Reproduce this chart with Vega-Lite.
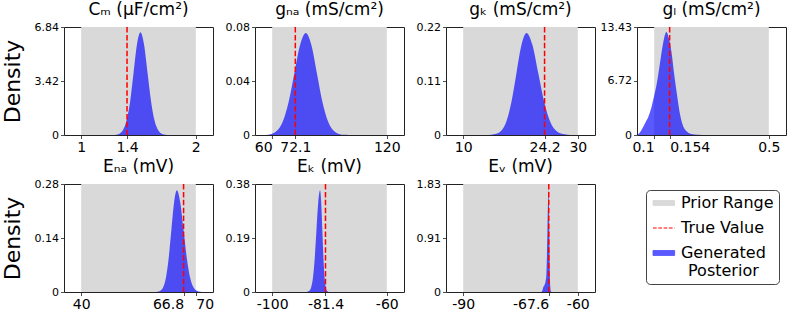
{
  "$schema": "https://vega.github.io/schema/vega-lite/v6.json",
  "padding": {"left": 0, "top": 0, "right": 5, "bottom": 5},
  "background": "white",
  "datasets": {
    "params": [
      {"p": "Cm", "lo": 1, "hi": 2, "t": 1.4},
      {"p": "gNa", "lo": 60, "hi": 120, "t": 72.1},
      {"p": "gK", "lo": 10, "hi": 30, "t": 24.2},
      {"p": "gL", "lo": 0.1, "hi": 0.5, "t": 0.154},
      {"p": "ENa", "lo": 40, "hi": 70, "t": 66.8},
      {"p": "EK", "lo": -100, "hi": -60, "t": -81.4},
      {"p": "EV", "lo": -90, "hi": -60, "t": -67.6}
    ],
    "curves": [
      {"p": "Cm", "x": 1.28, "d": 0}, {"p": "Cm", "x": 1.307, "d": 0.02}, {"p": "Cm", "x": 1.337, "d": 0.10},
      {"p": "Cm", "x": 1.367, "d": 0.35}, {"p": "Cm", "x": 1.397, "d": 0.95}, {"p": "Cm", "x": 1.427, "d": 2.11},
      {"p": "Cm", "x": 1.457, "d": 3.94}, {"p": "Cm", "x": 1.487, "d": 5.74}, {"p": "Cm", "x": 1.517, "d": 6.50},
      {"p": "Cm", "x": 1.548, "d": 5.74}, {"p": "Cm", "x": 1.579, "d": 3.94}, {"p": "Cm", "x": 1.61, "d": 2.11},
      {"p": "Cm", "x": 1.641, "d": 0.88}, {"p": "Cm", "x": 1.672, "d": 0.30}, {"p": "Cm", "x": 1.703, "d": 0.08},
      {"p": "Cm", "x": 1.734, "d": 0.015}, {"p": "Cm", "x": 1.76, "d": 0},

      {"p": "gNa", "x": 56.6, "d": 0}, {"p": "gNa", "x": 59.6, "d": 0.0008}, {"p": "gNa", "x": 62.6, "d": 0.0033},
      {"p": "gNa", "x": 65.6, "d": 0.0102}, {"p": "gNa", "x": 68.6, "d": 0.0245}, {"p": "gNa", "x": 71.6, "d": 0.0458},
      {"p": "gNa", "x": 74.6, "d": 0.0666}, {"p": "gNa", "x": 77.6, "d": 0.0755}, {"p": "gNa", "x": 80.5, "d": 0.0666},
      {"p": "gNa", "x": 83.4, "d": 0.0458}, {"p": "gNa", "x": 86.3, "d": 0.0245}, {"p": "gNa", "x": 89.2, "d": 0.0102},
      {"p": "gNa", "x": 92.1, "d": 0.0033}, {"p": "gNa", "x": 95.0, "d": 0.0008}, {"p": "gNa", "x": 97.9, "d": 0.0001},
      {"p": "gNa", "x": 100, "d": 0},

      {"p": "gK", "x": 13.5, "d": 0}, {"p": "gK", "x": 14.05, "d": 0.0001}, {"p": "gK", "x": 14.925, "d": 0.0005},
      {"p": "gK", "x": 15.8, "d": 0.0023}, {"p": "gK", "x": 16.675, "d": 0.0091}, {"p": "gK", "x": 17.55, "d": 0.0281},
      {"p": "gK", "x": 18.425, "d": 0.0675}, {"p": "gK", "x": 19.3, "d": 0.1262}, {"p": "gK", "x": 20.175, "d": 0.1836},
      {"p": "gK", "x": 21.05, "d": 0.208}, {"p": "gK", "x": 22.075, "d": 0.1836}, {"p": "gK", "x": 23.1, "d": 0.1262},
      {"p": "gK", "x": 24.125, "d": 0.0675}, {"p": "gK", "x": 25.15, "d": 0.0281}, {"p": "gK", "x": 26.175, "d": 0.0091},
      {"p": "gK", "x": 27.2, "d": 0.0023}, {"p": "gK", "x": 28.225, "d": 0.0005}, {"p": "gK", "x": 29.25, "d": 0.0001},
      {"p": "gK", "x": 30, "d": 0},

      {"p": "gL", "x": 0.04, "d": 0}, {"p": "gL", "x": 0.05, "d": 0.3}, {"p": "gL", "x": 0.06, "d": 0.9},
      {"p": "gL", "x": 0.07, "d": 1.6}, {"p": "gL", "x": 0.08, "d": 2.3}, {"p": "gL", "x": 0.09, "d": 3.4},
      {"p": "gL", "x": 0.10, "d": 4.9}, {"p": "gL", "x": 0.11, "d": 6.6}, {"p": "gL", "x": 0.12, "d": 8.9},
      {"p": "gL", "x": 0.13, "d": 11.2}, {"p": "gL", "x": 0.1426, "d": 12.8}, {"p": "gL", "x": 0.15, "d": 12.2},
      {"p": "gL", "x": 0.16, "d": 10.4}, {"p": "gL", "x": 0.17, "d": 7.5}, {"p": "gL", "x": 0.18, "d": 4.9},
      {"p": "gL", "x": 0.19, "d": 2.6}, {"p": "gL", "x": 0.20, "d": 1.2}, {"p": "gL", "x": 0.215, "d": 0.4},
      {"p": "gL", "x": 0.23, "d": 0.12}, {"p": "gL", "x": 0.25, "d": 0.02}, {"p": "gL", "x": 0.265, "d": 0},

      {"p": "ENa", "x": 59.25, "d": 0}, {"p": "ENa", "x": 59.975, "d": 0.0006}, {"p": "ENa", "x": 60.7, "d": 0.003},
      {"p": "ENa", "x": 61.425, "d": 0.0116}, {"p": "ENa", "x": 62.15, "d": 0.0357}, {"p": "ENa", "x": 62.875, "d": 0.0857},
      {"p": "ENa", "x": 63.6, "d": 0.160}, {"p": "ENa", "x": 64.325, "d": 0.233}, {"p": "ENa", "x": 65.05, "d": 0.264},
      {"p": "ENa", "x": 65.925, "d": 0.233}, {"p": "ENa", "x": 66.8, "d": 0.160}, {"p": "ENa", "x": 67.675, "d": 0.0857},
      {"p": "ENa", "x": 68.55, "d": 0.0357}, {"p": "ENa", "x": 69.425, "d": 0.0116}, {"p": "ENa", "x": 70.3, "d": 0.003},
      {"p": "ENa", "x": 71.175, "d": 0.0006}, {"p": "ENa", "x": 72.05, "d": 0},

      {"p": "EK", "x": -88.5, "d": 0}, {"p": "EK", "x": -87.675, "d": 0.001}, {"p": "EK", "x": -87.05, "d": 0.004},
      {"p": "EK", "x": -86.425, "d": 0.016}, {"p": "EK", "x": -85.8, "d": 0.048}, {"p": "EK", "x": -85.175, "d": 0.116},
      {"p": "EK", "x": -84.55, "d": 0.217}, {"p": "EK", "x": -83.925, "d": 0.316}, {"p": "EK", "x": -83.3, "d": 0.358},
      {"p": "EK", "x": -82.9, "d": 0.316}, {"p": "EK", "x": -82.5, "d": 0.217}, {"p": "EK", "x": -82.1, "d": 0.116},
      {"p": "EK", "x": -81.7, "d": 0.048}, {"p": "EK", "x": -81.3, "d": 0.016}, {"p": "EK", "x": -80.9, "d": 0.004},
      {"p": "EK", "x": -80.5, "d": 0.001}, {"p": "EK", "x": -80.0, "d": 0},

      {"p": "EV", "x": -69.5, "d": 0}, {"p": "EV", "x": -69.3, "d": 0.02}, {"p": "EV", "x": -69.0, "d": 0.09},
      {"p": "EV", "x": -68.7, "d": 0.12}, {"p": "EV", "x": -68.45, "d": 0.18}, {"p": "EV", "x": -68.25, "d": 0.27},
      {"p": "EV", "x": -68.1, "d": 0.56}, {"p": "EV", "x": -67.95, "d": 1.05}, {"p": "EV", "x": -67.8, "d": 1.53},
      {"p": "EV", "x": -67.65, "d": 1.73}, {"p": "EV", "x": -67.56, "d": 1.53}, {"p": "EV", "x": -67.47, "d": 1.05},
      {"p": "EV", "x": -67.38, "d": 0.56}, {"p": "EV", "x": -67.29, "d": 0.23}, {"p": "EV", "x": -67.2, "d": 0.08},
      {"p": "EV", "x": -67.1, "d": 0.02}, {"p": "EV", "x": -66.9, "d": 0}
    ]
  },
  "columns": 4,
  "spacing": {"row": 49, "column": 42},
  "bounds": "flush",
  "concat": [
    {
      "width": 149, "height": 108, "title": "Cₘ (μF/cm²)",
      "layer": [
        {"data": {"name": "params"}, "transform": [{"filter": "datum.p == 'Cm'"}],
         "mark": {"type": "rect", "color": "#d9d9d9"},
         "encoding": {"x": {"field": "lo", "type": "quantitative", "scale": {"domain": [0.85, 2.15], "nice": false, "zero": false},
           "axis": {"values": [1, 1.4, 2], "title": null, "labelExpr": "'' + datum.value"}}, "x2": {"field": "hi"}}},
        {"data": {"name": "curves"}, "transform": [{"filter": "datum.p == 'Cm'"}],
         "mark": {"type": "area", "color": "blue", "opacity": 0.65, "interpolate": "monotone", "clip": true},
         "encoding": {"x": {"field": "x", "type": "quantitative"},
           "y": {"field": "d", "type": "quantitative", "scale": {"domain": [0, 6.84], "nice": false},
             "axis": {"values": [0, 3.42, 6.84], "title": "Density", "labelExpr": "'' + datum.value"}}}},
        {"data": {"name": "params"}, "transform": [{"filter": "datum.p == 'Cm'"}],
         "mark": {"type": "rule", "color": "red", "strokeDash": [5.5, 2.4], "strokeWidth": 1.5},
         "encoding": {"x": {"field": "t", "type": "quantitative"}}}
      ]
    },
    {
      "width": 149, "height": 108, "title": "gₙₐ (mS/cm²)",
      "layer": [
        {"data": {"name": "params"}, "transform": [{"filter": "datum.p == 'gNa'"}],
         "mark": {"type": "rect", "color": "#d9d9d9"},
         "encoding": {"x": {"field": "lo", "type": "quantitative", "scale": {"domain": [51, 129], "nice": false, "zero": false},
           "axis": {"values": [60, 72.1, 120], "title": null, "labelExpr": "'' + datum.value",
             "labelAlign": {"condition": {"test": "datum.value == 60", "value": "right"}, "value": "center"}}}, "x2": {"field": "hi"}}},
        {"data": {"name": "curves"}, "transform": [{"filter": "datum.p == 'gNa'"}],
         "mark": {"type": "area", "color": "blue", "opacity": 0.65, "interpolate": "monotone", "clip": true},
         "encoding": {"x": {"field": "x", "type": "quantitative"},
           "y": {"field": "d", "type": "quantitative", "scale": {"domain": [0, 0.08], "nice": false},
             "axis": {"values": [0, 0.04, 0.08], "title": null, "labelExpr": "'' + datum.value"}}}},
        {"data": {"name": "params"}, "transform": [{"filter": "datum.p == 'gNa'"}],
         "mark": {"type": "rule", "color": "red", "strokeDash": [5.5, 2.4], "strokeWidth": 1.5},
         "encoding": {"x": {"field": "t", "type": "quantitative"}}}
      ]
    },
    {
      "width": 149, "height": 108, "title": "gₖ (mS/cm²)",
      "layer": [
        {"data": {"name": "params"}, "transform": [{"filter": "datum.p == 'gK'"}],
         "mark": {"type": "rect", "color": "#d9d9d9"},
         "encoding": {"x": {"field": "lo", "type": "quantitative", "scale": {"domain": [7, 33], "nice": false, "zero": false},
           "axis": {"values": [10, 24.2, 30], "title": null, "labelExpr": "'' + datum.value"}}, "x2": {"field": "hi"}}},
        {"data": {"name": "curves"}, "transform": [{"filter": "datum.p == 'gK'"}],
         "mark": {"type": "area", "color": "blue", "opacity": 0.65, "interpolate": "monotone", "clip": true},
         "encoding": {"x": {"field": "x", "type": "quantitative"},
           "y": {"field": "d", "type": "quantitative", "scale": {"domain": [0, 0.22], "nice": false},
             "axis": {"values": [0, 0.11, 0.22], "title": null, "labelExpr": "'' + datum.value"}}}},
        {"data": {"name": "params"}, "transform": [{"filter": "datum.p == 'gK'"}],
         "mark": {"type": "rule", "color": "red", "strokeDash": [5.5, 2.4], "strokeWidth": 1.5},
         "encoding": {"x": {"field": "t", "type": "quantitative"}}}
      ]
    },
    {
      "width": 149, "height": 108, "title": "gₗ (mS/cm²)",
      "layer": [
        {"data": {"name": "params"}, "transform": [{"filter": "datum.p == 'gL'"}],
         "mark": {"type": "rect", "color": "#d9d9d9"},
         "encoding": {"x": {"field": "lo", "type": "quantitative", "scale": {"domain": [0.04, 0.56], "nice": false, "zero": false},
           "axis": {"values": [0.1, 0.154, 0.5], "title": null, "labelExpr": "'' + datum.value",
             "labelAlign": {"condition": [{"test": "datum.value == 0.1", "value": "right"}, {"test": "datum.value == 0.154", "value": "left"}], "value": "center"}}}, "x2": {"field": "hi"}}},
        {"data": {"name": "curves"}, "transform": [{"filter": "datum.p == 'gL'"}],
         "mark": {"type": "area", "color": "blue", "opacity": 0.65, "interpolate": "monotone", "clip": true},
         "encoding": {"x": {"field": "x", "type": "quantitative"},
           "y": {"field": "d", "type": "quantitative", "scale": {"domain": [0, 13.43], "nice": false},
             "axis": {"values": [0, 6.72, 13.43], "title": null, "labelExpr": "'' + datum.value"}}}},
        {"data": {"name": "params"}, "transform": [{"filter": "datum.p == 'gL'"}],
         "mark": {"type": "rule", "color": "red", "strokeDash": [5.5, 2.4], "strokeWidth": 1.5},
         "encoding": {"x": {"field": "t", "type": "quantitative"}}}
      ]
    },
    {
      "width": 149, "height": 108, "title": "Eₙₐ (mV)",
      "layer": [
        {"data": {"name": "params"}, "transform": [{"filter": "datum.p == 'ENa'"}],
         "mark": {"type": "rect", "color": "#d9d9d9"},
         "encoding": {"x": {"field": "lo", "type": "quantitative", "scale": {"domain": [35.5, 74.5], "nice": false, "zero": false},
           "axis": {"values": [40, 66.8, 70], "title": null, "labelExpr": "'' + datum.value",
             "labelAlign": {"condition": [{"test": "datum.value == 66.8", "value": "right"}, {"test": "datum.value == 70", "value": "left"}], "value": "center"}}}, "x2": {"field": "hi"}}},
        {"data": {"name": "curves"}, "transform": [{"filter": "datum.p == 'ENa'"}],
         "mark": {"type": "area", "color": "blue", "opacity": 0.65, "interpolate": "monotone", "clip": true},
         "encoding": {"x": {"field": "x", "type": "quantitative"},
           "y": {"field": "d", "type": "quantitative", "scale": {"domain": [0, 0.28], "nice": false},
             "axis": {"values": [0, 0.14, 0.28], "title": "Density", "labelExpr": "'' + datum.value"}}}},
        {"data": {"name": "params"}, "transform": [{"filter": "datum.p == 'ENa'"}],
         "mark": {"type": "rule", "color": "red", "strokeDash": [5.5, 2.4], "strokeWidth": 1.5},
         "encoding": {"x": {"field": "t", "type": "quantitative"}}}
      ]
    },
    {
      "width": 149, "height": 108, "title": "Eₖ (mV)",
      "layer": [
        {"data": {"name": "params"}, "transform": [{"filter": "datum.p == 'EK'"}],
         "mark": {"type": "rect", "color": "#d9d9d9"},
         "encoding": {"x": {"field": "lo", "type": "quantitative", "scale": {"domain": [-106, -54], "nice": false, "zero": false},
           "axis": {"values": [-100, -81.4, -60], "title": null, "labelExpr": "'' + datum.value"}}, "x2": {"field": "hi"}}},
        {"data": {"name": "curves"}, "transform": [{"filter": "datum.p == 'EK'"}],
         "mark": {"type": "area", "color": "blue", "opacity": 0.65, "interpolate": "monotone", "clip": true},
         "encoding": {"x": {"field": "x", "type": "quantitative"},
           "y": {"field": "d", "type": "quantitative", "scale": {"domain": [0, 0.38], "nice": false},
             "axis": {"values": [0, 0.19, 0.38], "title": null, "labelExpr": "'' + datum.value"}}}},
        {"data": {"name": "params"}, "transform": [{"filter": "datum.p == 'EK'"}],
         "mark": {"type": "rule", "color": "red", "strokeDash": [5.5, 2.4], "strokeWidth": 1.5},
         "encoding": {"x": {"field": "t", "type": "quantitative"}}}
      ]
    },
    {
      "width": 149, "height": 108, "title": "Eᵥ (mV)",
      "layer": [
        {"data": {"name": "params"}, "transform": [{"filter": "datum.p == 'EV'"}],
         "mark": {"type": "rect", "color": "#d9d9d9"},
         "encoding": {"x": {"field": "lo", "type": "quantitative", "scale": {"domain": [-94.5, -55.5], "nice": false, "zero": false},
           "axis": {"values": [-90, -67.6, -60], "title": null, "labelExpr": "'' + datum.value",
             "labelAlign": {"condition": {"test": "datum.value == -67.6", "value": "right"}, "value": "center"}}}, "x2": {"field": "hi"}}},
        {"data": {"name": "curves"}, "transform": [{"filter": "datum.p == 'EV'"}],
         "mark": {"type": "area", "color": "blue", "opacity": 0.65, "interpolate": "monotone", "clip": true},
         "encoding": {"x": {"field": "x", "type": "quantitative"},
           "y": {"field": "d", "type": "quantitative", "scale": {"domain": [0, 1.83], "nice": false},
             "axis": {"values": [0, 0.91, 1.83], "title": null, "labelExpr": "'' + datum.value"}}}},
        {"data": {"name": "params"}, "transform": [{"filter": "datum.p == 'EV'"}],
         "mark": {"type": "rule", "strokeDash": [5.5, 2.4], "strokeWidth": 1.5},
         "encoding": {"x": {"field": "t", "type": "quantitative"},
           "color": {"datum": "True Value", "type": "nominal",
             "scale": {"domain": ["Prior Range", "True Value", "Generated Posterior"], "range": ["#d9d9d9", "red", "#5959ff"]},
             "legend": {
               "orient": "none", "legendX": 582, "legendY": 163, "direction": "vertical",
               "title": null, "labelFont": "DejaVu Sans", "labelFontSize": 16, "labelColor": "black",
               "symbolSize": 144, "rowPadding": 9, "labelOffset": 14, "padding": 5,
               "strokeColor": "#444", "fillColor": "white", "cornerRadius": 4,
               "symbolStrokeWidth": 1, "symbolOpacity": 1,
               "labelExpr": "datum.label == 'Generated Posterior' ? ['Generated', 'Posterior'] : datum.label",
               "encode": {
                 "symbols": {"update": {
                   "shape": {"signal": "datum.value === 'True Value' ? 'M-1,0H2.6' : 'M-1,-0.4H2.6V0.4H-1Z'"},
                   "fill": {"signal": "datum.value === 'Prior Range' ? '#d9d9d9' : datum.value === 'True Value' ? 'transparent' : '#5959ff'"},
                   "stroke": {"signal": "datum.value === 'Prior Range' ? '#d9d9d9' : datum.value === 'True Value' ? 'red' : '#5959ff'"},
                   "strokeDash": {"signal": "datum.value === 'True Value' ? [3.7, 1.6] : [1, 0]"}
                 }},
                 "labels": {"update": {
                   "lineHeight": {"value": 18},
                   "align": {"signal": "datum.value === 'Generated Posterior' ? 'center' : 'left'"},
                   "dx": {"signal": "datum.value === 'Generated Posterior' ? 42.4 : 0"}
                 }}
               }
             }}}}
      ]
    }
  ],
  "config": {
    "font": "DejaVu Sans",
    "view": {"stroke": "#222", "strokeWidth": 1},
    "axis": {"grid": false, "domain": false, "ticks": true, "tickColor": "#222", "tickSize": 3.5, "tickWidth": 0.8,
      "labelColor": "black", "labelFont": "DejaVu Sans", "labelOverlap": false, "labelFlush": false, "labelBound": false, "labelPadding": 2},
    "axisX": {"labelFontSize": 14},
    "axisY": {"labelFontSize": 11, "titleFontSize": 22, "titleFontWeight": "normal", "titleColor": "black", "titlePadding": 10, "titleFont": "DejaVu Sans"},
    "title": {"fontSize": 17, "fontWeight": "normal", "font": "DejaVu Sans", "offset": 2, "color": "black"}
  }
}
